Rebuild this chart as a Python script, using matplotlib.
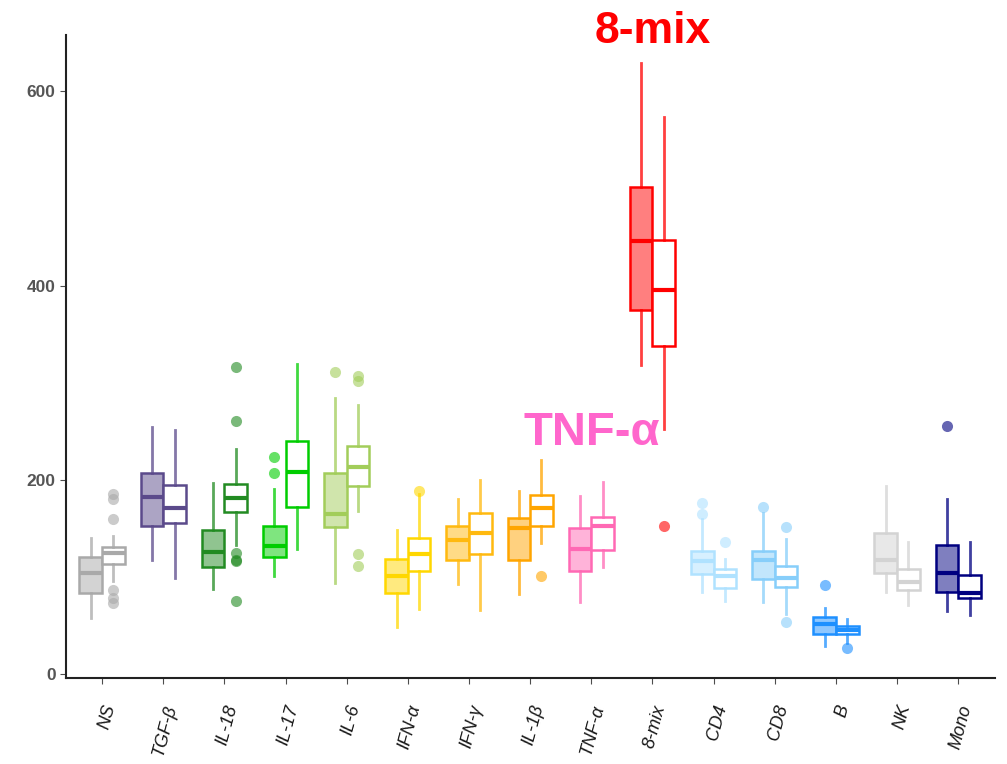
import numpy as np
import matplotlib
matplotlib.use("Agg")
import matplotlib.pyplot as plt

plt.rcParams['font.family'] = ['Liberation Sans', 'DejaVu Sans']

categories = ['NS', 'TGF-β', 'IL-18', 'IL-17', 'IL-6', 'IFN-α', 'IFN-γ', 'IL-1β',
              'TNF-α', '8-mix', 'CD4', 'CD8', 'B', 'NK', 'Mono']
colors = ['#a9a9a9', '#5b4a8b', '#228b22', '#00cd00', '#a2cd5a', '#ffd700', '#ffb90f',
          '#ffa500', '#ff69b4', '#ff0000', '#b0e2ff', '#87cefa', '#1e90ff', '#d3d3d3', '#000080']

# [whisker low, q1, median, q3, whisker high]
filled_box = [
    [58, 83, 104, 121, 140],
    [117, 152, 182, 207, 254],
    [88, 110, 126, 148, 197],
    [101, 121, 132, 153, 191],
    [94, 151, 165, 207, 284],
    [49, 84, 101, 119, 148],
    [93, 117, 138, 153, 180],
    [82, 117, 150, 161, 189],
    [74, 106, 129, 150, 183],
    [318, 375, 446, 502, 629],
    [85, 103, 116, 127, 160],
    [74, 98, 117, 127, 166],
    [29, 41, 52, 59, 68],
    [85, 104, 118, 145, 194],
    [65, 85, 104, 133, 180],
]
filled_out = [[], [], [], [224, 207], [311], [], [], [], [], [], [176, 165], [172], [92], [], [255]]

open_box = [
    [96, 113, 125, 131, 142],
    [99, 156, 171, 195, 251],
    [133, 167, 181, 196, 232],
    [129, 172, 208, 240, 319],
    [168, 194, 213, 235, 277],
    [67, 106, 124, 140, 185],
    [66, 124, 145, 166, 200],
    [135, 152, 171, 184, 220],
    [110, 128, 153, 162, 198],
    [252, 338, 396, 447, 574],
    [75, 89, 101, 108, 119],
    [62, 90, 99, 111, 139],
    [32, 41, 45, 50, 57],
    [71, 87, 95, 108, 136],
    [61, 78, 84, 102, 136],
]
open_out = [[185, 180, 160, 87, 78, 73], [], [316, 261, 125, 117, 116, 75], [], [307, 302, 124, 111],
            [189], [], [101], [], [152], [136], [151, 54], [27], [], []]


def make_stats(box, out):
    lo, q1, med, q3, hi = box
    return dict(whislo=lo, q1=q1, med=med, q3=q3, whishi=hi, fliers=out)


def draw(ax, pos, box, out, color, filled):
    face = matplotlib.colors.to_rgba(color, 0.5) if filled else 'white'
    ax.bxp([make_stats(box, out)], positions=[pos], widths=0.37, patch_artist=True,
           showcaps=False, manage_ticks=False,
           boxprops=dict(facecolor=face, edgecolor=color, linewidth=1.8),
           medianprops=dict(color=color, linewidth=3, solid_capstyle='butt'),
           whiskerprops=dict(color=color, linewidth=2, alpha=0.75),
           flierprops=dict(marker='o', markerfacecolor=color, markeredgecolor='none',
                           markersize=8, alpha=0.6))


fig = plt.figure(figsize=(10.07, 7.64), dpi=100)
ax = fig.add_axes([0.0655, 0.1126, 0.9225, 0.8414])

x = np.arange(1, len(categories) + 1)
for i in range(len(categories)):
    draw(ax, x[i] - 0.185, filled_box[i], filled_out[i], colors[i], True)
    draw(ax, x[i] + 0.185, open_box[i], open_out[i], colors[i], False)

ax.set_xlim(0.41, 15.6)
ax.set_ylim(-4, 658)
ax.set_yticks([0, 200, 400, 600])
ax.set_xticks(x)
ax.set_xticklabels(categories, rotation=75, ha='right', va='top', rotation_mode='anchor',
                   fontstyle='italic', fontsize=13, color='#1a1a1a')
ax.tick_params(axis='y', labelsize=12.5, labelcolor='#555555', color='#4d4d4d', length=4)
ax.tick_params(axis='x', color='#4d4d4d', length=4, pad=14)
for lbl in ax.get_yticklabels():
    lbl.set_fontweight('semibold')

for side in ['top', 'right']:
    ax.spines[side].set_visible(False)
for side in ['left', 'bottom']:
    ax.spines[side].set_linewidth(1.5)
    ax.spines[side].set_color('#222222')

ax.text(10, 662, '8-mix', color='#ff0000', fontsize=32, fontweight='bold',
        ha='center', va='center', clip_on=False)
ax.text(9, 248, 'TNF-α', color='#ff66cc', fontsize=34, fontweight='bold',
        ha='center', va='center')

fig.savefig('out.png', dpi=100)
